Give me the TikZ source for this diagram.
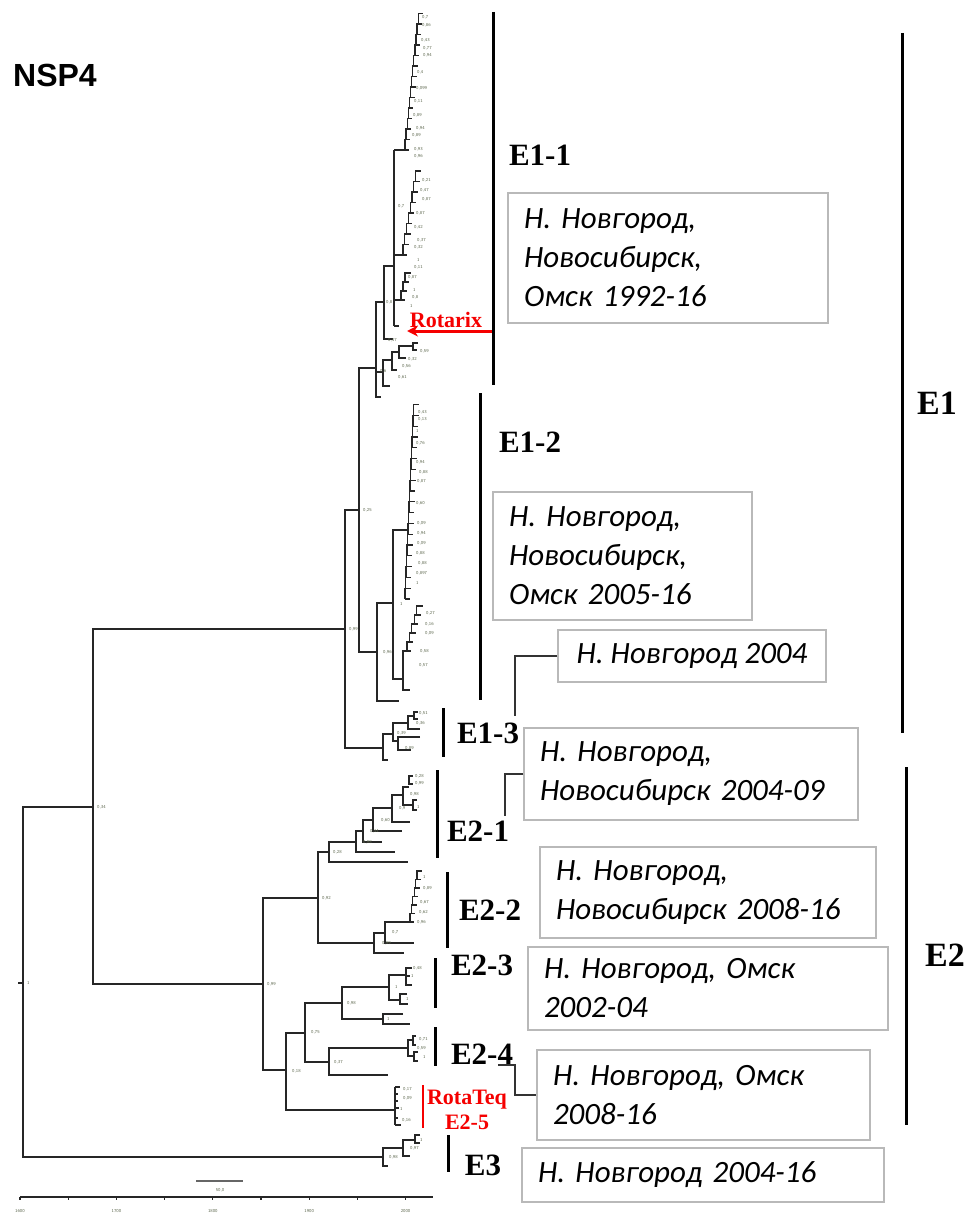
\documentclass[tikz,border=0pt]{standalone}
\usepackage{fontspec}
\setmainfont{Liberation Serif}
\newfontfamily\boxfont{Carlito}
\newfontfamily\headfont{Liberation Sans}
\usetikzlibrary{arrows.meta,positioning}
\definecolor{tipgray}{RGB}{95,105,80}
\definecolor{boxgray}{RGB}{185,185,185}
\definecolor{markred}{RGB}{245,0,0}
\frenchspacing
\tikzset{
  >=Stealth,
  branch/.style={line width=1.25pt,draw=black!85},
  cladebar/.style={line width=3pt},
  link/.style={line width=1.3pt,draw=black!80},
  region/.style={draw=boxgray,line width=1.3pt,font=\boxfont\itshape\fontsize{31}{39}\selectfont,
    align=left,inner xsep=16pt,inner ysep=0pt},
  cladename/.style={font=\bfseries\fontsize{31}{31}\selectfont,inner sep=0pt},
  support/.style={font=\sffamily\fontsize{4.5}{4.5}\selectfont,text=tipgray,inner sep=0pt,anchor=west},
}
% bracket: x, top y, top end, bottom y, bottom end
\newcommand{\clade}[5]{\draw[branch] (#3,#2) -| (#1,#4) -- (#5,#4);}
\newcommand{\twig}[3]{\draw[branch] (#1,#2) -- (#3,#2);}
% ladder of tips: x, bottom y, steps, dx, dy, leaf
\newcommand{\comb}[6]{%
  \foreach \k in {1,...,#3}{
    \draw[branch] ({#1+(\k-1)*#4},{#2-(\k-1)*#5}) -- ++(#6,0)
      ({#1+(\k-1)*#4},{#2-(\k-1)*#5}) -- ++(0,{-#5}) -- ++(#4,0);
  }
  \draw[branch] ({#1+#3*#4},{#2-#3*#5}) -- ++(#6,0);
}

\begin{document}
\begin{tikzpicture}[x=1pt,y=-1pt]
\useasboundingbox (0,0) rectangle (971,1215);

\node[font=\headfont\bfseries\fontsize{32}{32}\selectfont,inner sep=0pt] (nsp4) at (55,75) {NSP4};

% backbone
\clade{23}{807}{93}{1157}{383}
\twig{18}{983}{23}
\clade{93}{629}{345}{984}{263}
\clade{345}{510}{359}{748}{383}
\clade{359}{368}{376}{652}{377}

% E1-1
\clade{376}{302}{384}{397}{381}
\twig{376}{372}{383}
\clade{383}{360}{392}{386}{390}
\clade{392}{352}{399}{370}{397}
\clade{399}{346}{413}{358}{406}
\clade{413}{343}{418}{350}{417}
\clade{384}{266}{394}{339}{393}
\draw[branch] (394,150) -- (394,326);
\twig{394}{150}{405} \twig{394}{255}{403} \twig{394}{300}{401} \twig{394}{326}{399}
\comb{405}{150}{13}{1.1}{10.5}{4}
\comb{403}{255}{8}{1.8}{10.5}{4}
\comb{401}{300}{3}{2}{9}{4}

% E1-2
\clade{377}{603}{393}{701}{399}
\clade{393}{530}{408}{679}{403}
\comb{405}{599}{18}{0.5}{10.8}{5}
\clade{403}{651}{407}{690}{410}
\comb{407}{651}{5}{2.4}{9}{4}

% E1-3
\clade{383}{734}{393}{760}{388}
\clade{393}{723}{408}{741}{398}
\clade{408}{716}{414}{729}{420}
\clade{414}{712}{418}{719}{418}
\clade{398}{737}{420}{750}{411}

% E2
\clade{263}{898}{318}{1070}{286}
\clade{318}{852}{329}{943}{374}
\clade{329}{842}{356}{862}{408}
\clade{356}{831}{363}{852}{395}
\clade{363}{820}{373}{842}{382}
\clade{373}{808}{392}{831}{402}
\clade{392}{795}{403}{822}{410}
\clade{403}{787}{409}{805}{413}
\clade{409}{776}{413}{784}{413}
\clade{413}{800}{417}{810}{417}
\clade{374}{933}{385}{953}{404}
\clade{385}{922}{410}{943}{414}
\comb{410}{922}{6}{1.4}{8.5}{4}
\clade{286}{1033}{305}{1110}{395}
\clade{305}{1003}{342}{1062}{329}
\clade{342}{987}{389}{1019}{383}
\clade{389}{975}{406}{1000}{400}
\clade{406}{968}{412}{985}{412}
\twig{406}{976}{410}
\clade{400}{994}{407}{1004}{408}
\clade{383}{1014}{403}{1024}{410}
\clade{329}{1048}{408}{1075}{388}
\clade{408}{1040}{413}{1056}{414}
\clade{413}{1036}{416}{1045}{416}
\clade{414}{1052}{418}{1061}{418}
\draw[branch] (395,1087) -- (395,1125);
\foreach \y/\e in {1087/400,1094/398,1101/398,1108/399,1118/398,1125/401} {\twig{395}{\y}{\e}}

% E3
\clade{383}{1148}{403}{1166}{388}
\clade{403}{1140}{415}{1156}{410}
\clade{415}{1135}{420}{1143}{420}

% support values
\foreach \x/\y/\t [count=\n] in {422/17/0{,}7, 422/25/0{,}86, 421/40/0{,}43, 423/48/0{,}77, 423/55/0{,}94,
  417/72/0{,}4, 416/88/0{,}099, 414/101/0{,}11, 413/115/0{,}89, 416/128/0{,}94, 412/135/0{,}89,
  414/149/0{,}93, 414/156/0{,}96, 422/180/0{,}21, 420/190/0{,}47, 422/199/0{,}87, 416/213/0{,}87,
  414/227/0{,}42, 417/240/0{,}37, 414/247/0{,}32, 417/260/1, 414/267/0{,}11, 408/277/0{,}87,
  413/290/1, 412/297/0{,}8, 410/306/1, 420/351/0{,}59, 408/359/0{,}32, 402/366/0{,}56,
  398/377/0{,}61, 388/340/0{,}47, 386/302/0{,}8, 398/206/0{,}7, 380/371/0{,}6}
  {\node[support] (sa\n) at (\x,\y) {\t};}
\foreach \x/\y/\t [count=\n] in {418/412/0{,}43, 418/419/0{,}13, 416/431/1, 416/443/0{,}76, 416/462/0{,}94,
  419/472/0{,}88, 417/481/0{,}87, 416/503/0{,}60, 417/523/0{,}09, 417/533/0{,}94, 417/543/0{,}09,
  416/553/0{,}88, 418/563/0{,}88, 416/573/0{,}897, 416/583/1, 426/613/0{,}27, 425/624/0{,}16,
  425/633/0{,}09, 420/651/0{,}58, 419/665/0{,}57, 400/604/1, 383/652/0{,}96, 363/510/0{,}25,
  349/629/0{,}99, 419/713/0{,}51, 416/723/0{,}36, 397/733/0{,}39, 405/748/0{,}89, 97/807/0{,}34, 27/983/1}
  {\node[support] (sb\n) at (\x,\y) {\t};}
\foreach \x/\y/\t [count=\n] in {267/984/0{,}99, 322/898/0{,}92, 333/852/0{,}28, 415/776/0{,}28, 415/783/0{,}99,
  410/794/0{,}98, 399/808/0{,}9, 417/807/1, 381/820/0{,}60, 370/831/0{,}44, 363/842/0{,}98,
  423/877/1, 423/888/0{,}89, 420/902/0{,}67, 419/912/0{,}62, 417/922/0{,}96, 392/932/0{,}7,
  382/943/0{,}99, 413/968/0{,}48, 411/976/1, 395/987/1, 406/999/1, 347/1003/0{,}98, 387/1019/1,
  311/1032/0{,}75, 419/1039/0{,}71, 417/1048/0{,}59, 423/1057/1, 334/1062/0{,}37, 292/1071/0{,}18,
  403/1089/0{,}17, 403/1098/0{,}09, 400/1109/1, 402/1120/0{,}16, 420/1140/1, 410/1148/0{,}97, 389/1157/0{,}98}
  {\node[support] (sc\n) at (\x,\y) {\t};}

% scale and time axis
\draw[branch,draw=black!60] (196,1181) -- (243,1181);
\node[support,anchor=center] (scale) at (220,1190) {50{,}0};
\draw[branch] (20,1197) -- (433,1197);
\foreach \i in {0,...,8} {\draw[branch] ({20+\i*48.2},1197) -- ++(0,2.5);}
\foreach \yr [count=\n from 0] in {1600,1700,1800,1900,2000}
  {\node[support,anchor=center] (yr\n) at ({20+\n*96.4},1211) {\yr};}

% clade bars and names
\draw[cladebar] (493,12) -- (493,385);
\draw[cladebar] (480,393) -- (480,700);
\draw[cladebar] (443,708) -- (443,757);
\draw[cladebar] (437,770) -- (437,858);
\draw[cladebar] (447,872) -- (447,948);
\draw[cladebar] (435,958) -- (435,1008);
\draw[cladebar] (435,1027) -- (435,1066);
\draw[cladebar,markred,line width=2.5pt] (423,1085) -- (423,1128);
\draw[cladebar] (448,1135) -- (448,1172);
\draw[cladebar] (902,33) -- (902,733);
\draw[cladebar] (906,767) -- (906,1125);

\node[cladename] (e11) at (540,155) {E1-1};
\node[cladename] (e12) at (530,442) {E1-2};
\node[cladename] (e13) at (488,733) {E1-3};
\node[cladename] (e21) at (478,831) {E2-1};
\node[cladename] (e22) at (490,910) {E2-2};
\node[cladename] (e23) at (482,965) {E2-3};
\node[cladename] (e24) at (482,1054) {E2-4};
\node[cladename] (e3) at (483,1165) {E3};
\node[cladename,font=\bfseries\fontsize{34}{34}\selectfont] (e1) at (937,403) {E1};
\node[cladename,font=\bfseries\fontsize{34}{34}\selectfont] (e2) at (945,955) {E2};
\node[cladename,text=markred,align=center,font=\bfseries\fontsize{22}{25}\selectfont] (rotateq) at (467,1110) {RotaTeq\\E2-5};

\node[cladename,text=markred,font=\bfseries\fontsize{22}{22}\selectfont] (rotarix) at (446,320) {Rotarix};
\coordinate (rxtail) at (492,331);
\coordinate (rxhead) at (407,331);
\draw[markred,line width=3pt,-{Stealth[length=11pt,width=11pt]}] (rxtail) -- (rxhead);

% places
\node[region,text width=288pt,minimum height=130pt] (r11) at (668,258) {Н. Новгород,\\Новосибирск,\\Омск 1992-16};
\node[region,text width=227pt,minimum height=128pt] (r12) at (622.5,556) {Н. Новгород,\\Новосибирск,\\Омск 2005-16};
\node[region,minimum width=268pt,minimum height=52pt] (r13) at (692,656) {Н. Новгород 2004};
\node[region,text width=302pt,minimum height=92pt] (r21) at (691,774) {Н. Новгород,\\Новосибирск 2004-09};
\node[region,text width=304pt,minimum height=91pt] (r22) at (708,892.5) {Н. Новгород,\\Новосибирск 2008-16};
\node[region,text width=328pt,minimum height=83pt] (r23) at (708,988.5) {Н. Новгород, Омск\\2002-04};
\node[region,text width=301pt,minimum height=90pt] (r24) at (703.5,1095) {Н. Новгород, Омск\\2008-16};
\node[region,text width=330pt,minimum height=54pt] (r3) at (703,1175) {Н. Новгород 2004-16};

\coordinate (k13) at (515,716);
\coordinate (k21) at (505,816);
\coordinate (k24) at (498,1065);
\draw[link] (r13.west) -| (k13);
\draw[link] (r21.west) -| (k21);
\draw[link] (k24) -- ++(17,0) |- (r24.west);

\end{tikzpicture}
\end{document}
